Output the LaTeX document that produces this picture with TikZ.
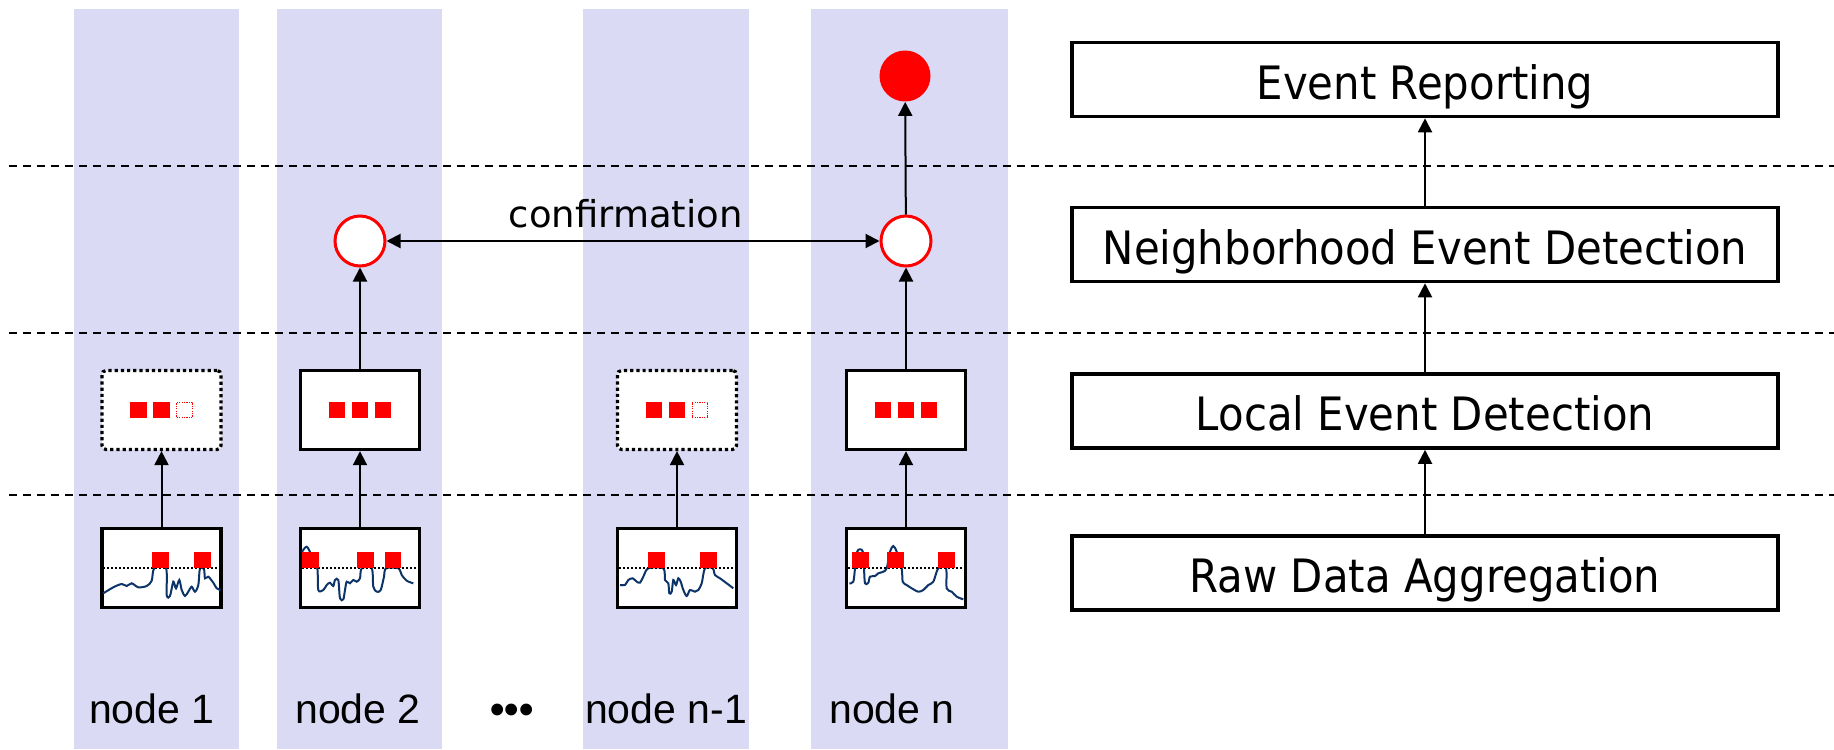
\documentclass[tikz,border=0pt]{standalone}
\usepackage{fontspec}
\setmainfont{Liberation Sans}
\newfontfamily\layerfont[FakeStretch=0.91]{DejaVu Sans}
\newfontfamily\msgfont{DejaVu Sans}
\usetikzlibrary{arrows.meta,positioning,calc}
\definecolor{wsnlane}{RGB}{218,218,244}
\definecolor{wsnred}{RGB}{255,0,0}
\definecolor{wsnwave}{RGB}{12,52,104}

\begin{document}
\begin{tikzpicture}[x=0.5pt, y=-0.5pt,
    layer/.style={rectangle, draw, line width=1.8pt, minimum width=353pt,
                  minimum height=37pt, text height=19.5pt, text depth=0pt,
                  font=\layerfont\fontsize{23}{27}\selectfont},
    sensbox/.style={rectangle, draw, line width=1.7pt, fill=white,
                    minimum width=59.5pt, minimum height=39.5pt},
    candbox/.style={sensbox, line width=1.6pt, dash pattern=on 1.6pt off 1.5pt,
                    rounded corners=2pt},
    evt/.style={rectangle, fill=wsnred, minimum size=8.3pt, inner sep=0pt},
    noevt/.style={rectangle, draw=wsnred, dash pattern=on 0.6pt off 0.6pt,
                  line width=0.6pt, minimum size=7.8pt, inner sep=0pt},
    nbhd/.style={circle, draw=wsnred, line width=1.5pt, fill=white,
                 minimum size=25pt, inner sep=0pt},
    flow/.style={-{Triangle[length=7pt, width=7pt]}, line width=1pt},
    wave/.style={wsnwave, line width=1pt, smooth, tension=0.5},
    thresh/.style={densely dotted, line width=1pt, shorten <=1.5pt, shorten >=1.5pt},
    lane/.style={fill=wsnlane},
    tier/.style={dash pattern=on 4pt off 3pt, line width=1pt},
    nodelbl/.style={font=\fontsize{20.5}{24}\selectfont, anchor=base},
  ]
  \useasboundingbox (0,0) rectangle (1834,749);

  % Stupci cvorova
  \fill[lane] (73.7,9) rectangle (238.6,749);
  \fill[lane] (277,9) rectangle (442,749);
  \fill[lane] (582.5,9) rectangle (748.5,749);
  \fill[lane] (810.5,9) rectangle (1008,749);

  % Granice slojeva
  \draw[tier] (9,166) -- (1834,166);
  \draw[tier] (9,333) -- (1834,333);
  \draw[tier] (9,495) -- (1834,495);

  % Slojevi
  \node[layer] (layRep) at (1425,79.5) {Event Reporting};
  \node[layer] (layNb) at (1425,244.5) {Neighborhood Event Detection};
  \node[layer] (layLoc) at (1425,411) {Local Event Detection};
  \node[layer] (layRaw) at (1425,573) {Raw Data Aggregation};

  \draw[flow] (layRaw) -- (layLoc);
  \draw[flow] (layLoc) -- (layNb);
  \draw[flow] (layNb) -- (layRep);

  % Sirovi podaci
  \foreach \i/\x in {1/161.5, 2/360, 3/677, 4/906} {
    \node[sensbox] (raw\i) at (\x,568) {};
  }

  \draw[wave] plot coordinates {(103.3,593.3) (113.3,587.3) (121.7,584)
    (126.7,586) (131.7,583.3) (138.3,587.3) (146.7,586) (151.7,580.7)
    (154.3,568.3) (166,568.3) (166.7,595) (170,596) (173.3,581.7) (176,588.3)
    (179.3,580) (181.7,590) (185,596) (188.3,591.7) (191.7,586.7) (195,591.7)
    (198.3,585) (200,568.3) (204,569.3) (205,578.3) (208.3,576.7)
    (213.3,582.7) (216.7,588.3) (220.7,590)};
  \draw[wave] plot coordinates {(302,552) (306.7,546.7) (312,556)
    (317.3,568.3) (318.3,590) (323.3,590) (326.7,585) (330,582.7)
    (333.3,586) (335,580) (338.3,580) (340,598.3) (343.3,599.3) (345,590)
    (346.7,581.7) (350,583.3) (353.3,580) (356.7,581.7) (360,578.3)
    (361.7,568.3) (371.7,568.3) (373.3,586.7) (376.7,591.7) (380.7,590)
    (384,576.7) (386,568.3) (398.3,568.3) (401.7,575) (406.7,580.7)
    (413.3,583.3)};
  \draw[wave] plot coordinates {(620,585) (625,585) (628.3,580) (632.7,578.3)
    (636.7,581.7) (640,582.7) (643.3,576.7) (648.3,568.3) (663.3,568.3)
    (665,580) (668.3,583.3) (669.3,593.3) (671.7,591.7) (673.3,580)
    (676,585) (678.3,578.3) (680.7,581.7) (683.3,590) (686.7,596) (690,590)
    (695,591.7) (698.3,590) (701.7,583.3) (705,568.3) (712.7,568.3)
    (715,575) (720,578.3) (726.7,583.3) (733.3,588.3)};
  \draw[wave] plot coordinates {(849.3,583.3) (853.3,581.7) (855,568.3)
    (857,552) (860,549.3) (863,552) (864,568.3) (865,583.3) (868.3,582.7)
    (870,576.7) (875,576) (878.3,573.3) (883.3,571.7) (886.7,568.3)
    (890,551.7) (893.3,546) (896.7,551.7) (901.7,568.3) (902.7,581.7)
    (906.7,585) (911.7,588.3) (918.3,591.7) (923.3,590) (928.3,585)
    (933.3,581.7) (938.3,568.3) (946,568.3) (946.7,588.3) (951.7,591.7)
    (956.7,596.7) (963.3,599.3)};

  \foreach \i in {1,...,4} {
    \draw[thresh] (raw\i.west) -- (raw\i.east);
  }
  \foreach \x in {160.5,202.5,310.5,365.5,393,656.5,708.5,860.5,895.5,946.5} {
    \node[evt] at (\x,560) {};
  }

  % Lokalna detekcija
  \node[candbox] (loc1) at (161.5,410) {};
  \node[sensbox] (loc2) at (360,410) {};
  \node[candbox] (loc3) at (677,410) {};
  \node[sensbox] (loc4) at (906,410) {};

  \foreach \b in {loc2,loc4} {
    \foreach \x in {-23,0,23} {
      \node[evt] at ($(\b)+(\x,0)$) {};
    }
  }
  \foreach \b in {loc1,loc3} {
    \node[evt] at ($(\b)+(-23,0)$) {};
    \node[evt] at ($(\b)+(0,0)$) {};
    \node[noevt] at ($(\b)+(23,0)$) {};
  }

  \foreach \i in {1,...,4} {
    \draw[flow] (raw\i) -- (loc\i);
  }

  % Susjedstvo i dojava
  \node[nbhd] (nb2) at (360,241) {};
  \node[nbhd] (nb4) at (906,241) {};
  \node[circle, fill=wsnred, minimum size=25.5pt, inner sep=0pt] (rep4)
    at (905,76) {};

  \draw[flow] (loc2) -- (nb2);
  \draw[flow] (loc4) -- (nb4);
  \draw[flow] (nb4) -- (rep4);
  \draw[{Triangle[length=7pt, width=7pt]}-{Triangle[length=7pt, width=7pt]},
        line width=1pt] (nb2) --
    node[pos=0.485, above=2.7pt, font=\msgfont\fontsize{18.5}{22}\selectfont]
    {confirmation} (nb4);

  % Oznake cvorova
  \node[nodelbl] (lbl1) at (151.7,723) {node 1};
  \node[nodelbl] (lbl2) at (358,723) {node 2};
  \node[nodelbl] (gap) at (512,723) {\textbf{•••}};
  \node[nodelbl] (lbl3) at (666,723) {node n-1};
  \node[nodelbl] (lbl4) at (892,723) {node n};
\end{tikzpicture}
\end{document}
